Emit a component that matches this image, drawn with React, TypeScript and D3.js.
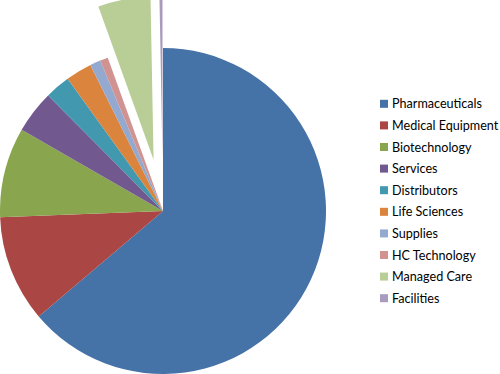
import React, { useEffect, useRef } from 'react';
import * as d3 from 'd3';

// sector shares (%)
const categories = [
  'Pharmaceuticals',
  'Medical Equipment',
  'Biotechnology',
  'Services',
  'Distributors',
  'Life Sciences',
  'Supplies',
  'HC Technology',
  'Managed Care',
  'Facilities',
];
const shares = [63.8, 10.6, 8.9, 4.25, 2.5, 2.6, 1.05, 0.8, 5.2, 0.3];
const exploded = ['Managed Care', 'Facilities'];
const colors = [
  '#4572A7', '#AA4643', '#89A54E', '#71588F', '#4198AF',
  '#DB843D', '#93A9CF', '#D19392', '#B9CD96', '#A99BBD',
];

const App = () => {
  const ref = useRef<SVGSVGElement>(null);

  useEffect(() => {
    const svg = d3.select(ref.current);
    svg.selectAll('*').remove();

    const width = 500;
    const height = 374;
    const cx = 163;
    const cy = 211;
    const r = 163;
    const offset = 52;

    svg.attr('width', width).attr('height', height);

    const color = d3.scaleOrdinal<string, string>().domain(categories).range(colors);

    const pie = d3.pie<number>().sort(null).value(d => d);
    const arcs = pie(shares);
    const arc = d3.arc<d3.PieArcDatum<number>>().innerRadius(0).outerRadius(r);

    const g = svg.append('g').attr('transform', `translate(${cx},${cy})`);

    g.selectAll('path')
      .data(arcs)
      .join('path')
      .attr('d', arc)
      .attr('fill', (d, i) => color(categories[i]))
      .attr('transform', (d, i) => {
        if (!exploded.includes(categories[i])) return null;
        const a = (d.startAngle + d.endAngle) / 2;
        return `translate(${Math.sin(a) * offset},${-Math.cos(a) * offset})`;
      });

    // legend
    const ly = d3.scaleBand().domain(categories).range([93, 309]);
    const legend = svg.append('g');
    const rows = legend.selectAll('g')
      .data(categories)
      .join('g')
      .attr('transform', d => `translate(380,${ly(d)! + ly.bandwidth() / 2})`);
    rows.append('rect')
      .attr('x', 0).attr('y', -4)
      .attr('width', 8).attr('height', 8)
      .attr('fill', d => color(d));
    rows.append('text')
      .attr('x', 12)
      .attr('dy', '0.36em')
      .attr('font-family', 'Lato, sans-serif')
      .attr('font-size', 12.6)
      .attr('fill', '#000')
      .text(d => d);
  }, []);

  return (
    <div style={{ position: 'absolute', left: 0, top: 0 }}>
      <svg ref={ref} style={{ display: 'block' }}></svg>
    </div>
  );
};

export default App;
